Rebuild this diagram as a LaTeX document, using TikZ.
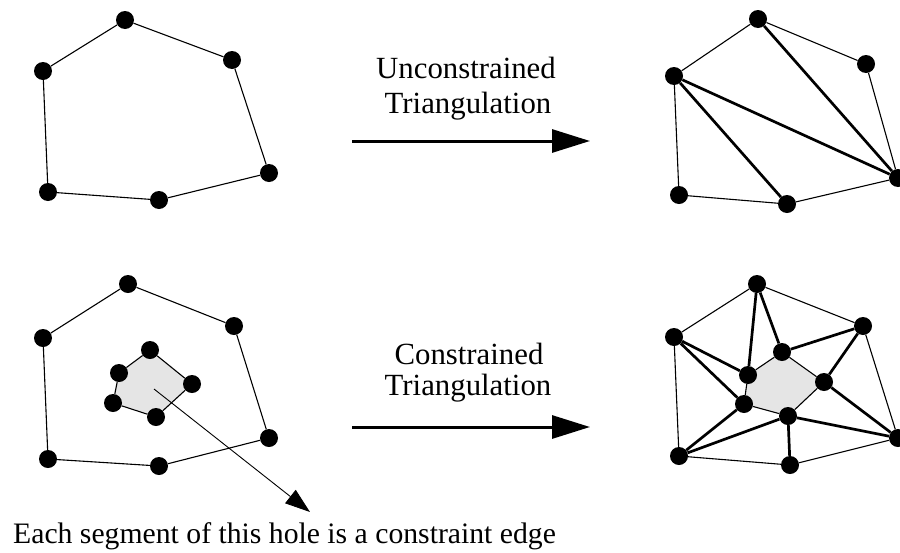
\documentclass[tikz,border=0pt]{standalone}
\usepackage{fontspec}
\setmainfont{Liberation Serif}
\usetikzlibrary{arrows.meta,backgrounds}
\begin{document}
\begin{tikzpicture}[x=1pt,y=-1pt,
  dot/.style={circle,fill=black,inner sep=0pt,minimum size=18pt},
  thinedge/.style={line width=1.1pt},
  thickedge/.style={line width=2.7pt},
  bigarrow/.style={line width=3pt,-{Triangle[length=38pt,width=23pt]}},
  ptr/.style={line width=0.9pt,-{Triangle[length=25pt,width=17pt]}},
  caption/.style={font=\fontsize{30.8}{34}\selectfont,inner sep=0pt,anchor=base},
  note/.style={font=\fontsize{29.7}{33}\selectfont,inner sep=0pt,anchor=base west}]
\useasboundingbox (0,0) rectangle (900,552);

% ---------- top left: polygon ----------
\node[dot] (a1) at (125,20) {};
\node[dot] (b1) at (232,60) {};
\node[dot] (c1) at (269,173) {};
\node[dot] (d1) at (159,200) {};
\node[dot] (e1) at (48,192) {};
\node[dot] (f1) at (43,71) {};
\draw[thinedge] (a1)--(b1) (b1)--(c1) (c1)--(d1) (d1)--(e1) (e1)--(f1) (f1)--(a1);

% ---------- top right: unconstrained triangulation ----------
\node[dot] (a2) at (758,19) {};
\node[dot] (b2) at (866,64) {};
\node[dot] (c2) at (898,178) {};
\node[dot] (d2) at (787,204) {};
\node[dot] (e2) at (679,195) {};
\node[dot] (f2) at (674,76) {};
\draw[thinedge] (a2)--(b2) (b2)--(c2) (c2)--(d2) (d2)--(e2) (e2)--(f2) (f2)--(a2);
\draw[thickedge] (f2)--(d2) (f2)--(c2) (a2)--(c2);

% ---------- bottom left: polygon with hole ----------
\node[dot] (a3) at (128,284) {};
\node[dot] (b3) at (234,326) {};
\node[dot] (c3) at (269,438) {};
\node[dot] (d3) at (159,466) {};
\node[dot] (e3) at (48,459) {};
\node[dot] (f3) at (43,338) {};
\node[dot] (h31) at (150,350) {};
\node[dot] (h32) at (192,384) {};
\node[dot] (h33) at (156,417) {};
\node[dot] (h34) at (113,403) {};
\node[dot] (h35) at (119,373) {};
\begin{scope}[on background layer]
  \fill[gray!20] (h31.center)--(h32.center)--(h33.center)--(h34.center)--(h35.center)--cycle;
\end{scope}
\draw[thinedge] (a3)--(b3) (b3)--(c3) (c3)--(d3) (d3)--(e3) (e3)--(f3) (f3)--(a3);
\draw[thinedge] (h31)--(h32) (h32)--(h33) (h33)--(h34) (h34)--(h35) (h35)--(h31);

% ---------- bottom right: constrained triangulation ----------
\node[dot] (a4) at (757,284) {};
\node[dot] (b4) at (863,326) {};
\node[dot] (c4) at (898,438) {};
\node[dot] (d4) at (790,465) {};
\node[dot] (e4) at (679,456) {};
\node[dot] (f4) at (674,337) {};
\node[dot] (h41) at (782,352) {};
\node[dot] (h42) at (824,382) {};
\node[dot] (h43) at (788,416) {};
\node[dot] (h44) at (744,404) {};
\node[dot] (h45) at (748,375) {};
\begin{scope}[on background layer]
  \fill[gray!20] (h41.center)--(h42.center)--(h43.center)--(h44.center)--(h45.center)--cycle;
\end{scope}
\draw[thinedge] (a4)--(b4) (b4)--(c4) (c4)--(d4) (d4)--(e4) (e4)--(f4) (f4)--(a4);
\draw[thinedge] (h41)--(h42) (h42)--(h43) (h43)--(h44) (h44)--(h45) (h45)--(h41);
\draw[thickedge] (a4)--(h45) (a4)--(h41) (b4)--(h41) (b4)--(h42)
  (f4)--(h45) (f4)--(h44) (e4)--(h44) (e4)--(h43)
  (h43)--(d4) (h43)--(c4) (h42)--(c4);

% ---------- arrows and captions ----------
\coordinate (u0) at (352,141);
\coordinate (u1) at (590,141);
\draw[bigarrow] (u0)--(u1);
\node[caption] (ut1) at (466,78) {Unconstrained};
\node[caption] (ut2) at (468,113) {Triangulation};

\coordinate (k0) at (352,427);
\coordinate (k1) at (590,427);
\draw[bigarrow] (k0)--(k1);
\node[caption] (kt1) at (469,364) {Constrained};
\node[caption] (kt2) at (468,395) {Triangulation};

\coordinate (hc) at (154,389);
\coordinate (tip) at (310,512);
\draw[ptr] (hc)--(tip);
\node[note] (notetext) at (13,543) {Each segment of this hole is a constraint edge};
\end{tikzpicture}
\end{document}
